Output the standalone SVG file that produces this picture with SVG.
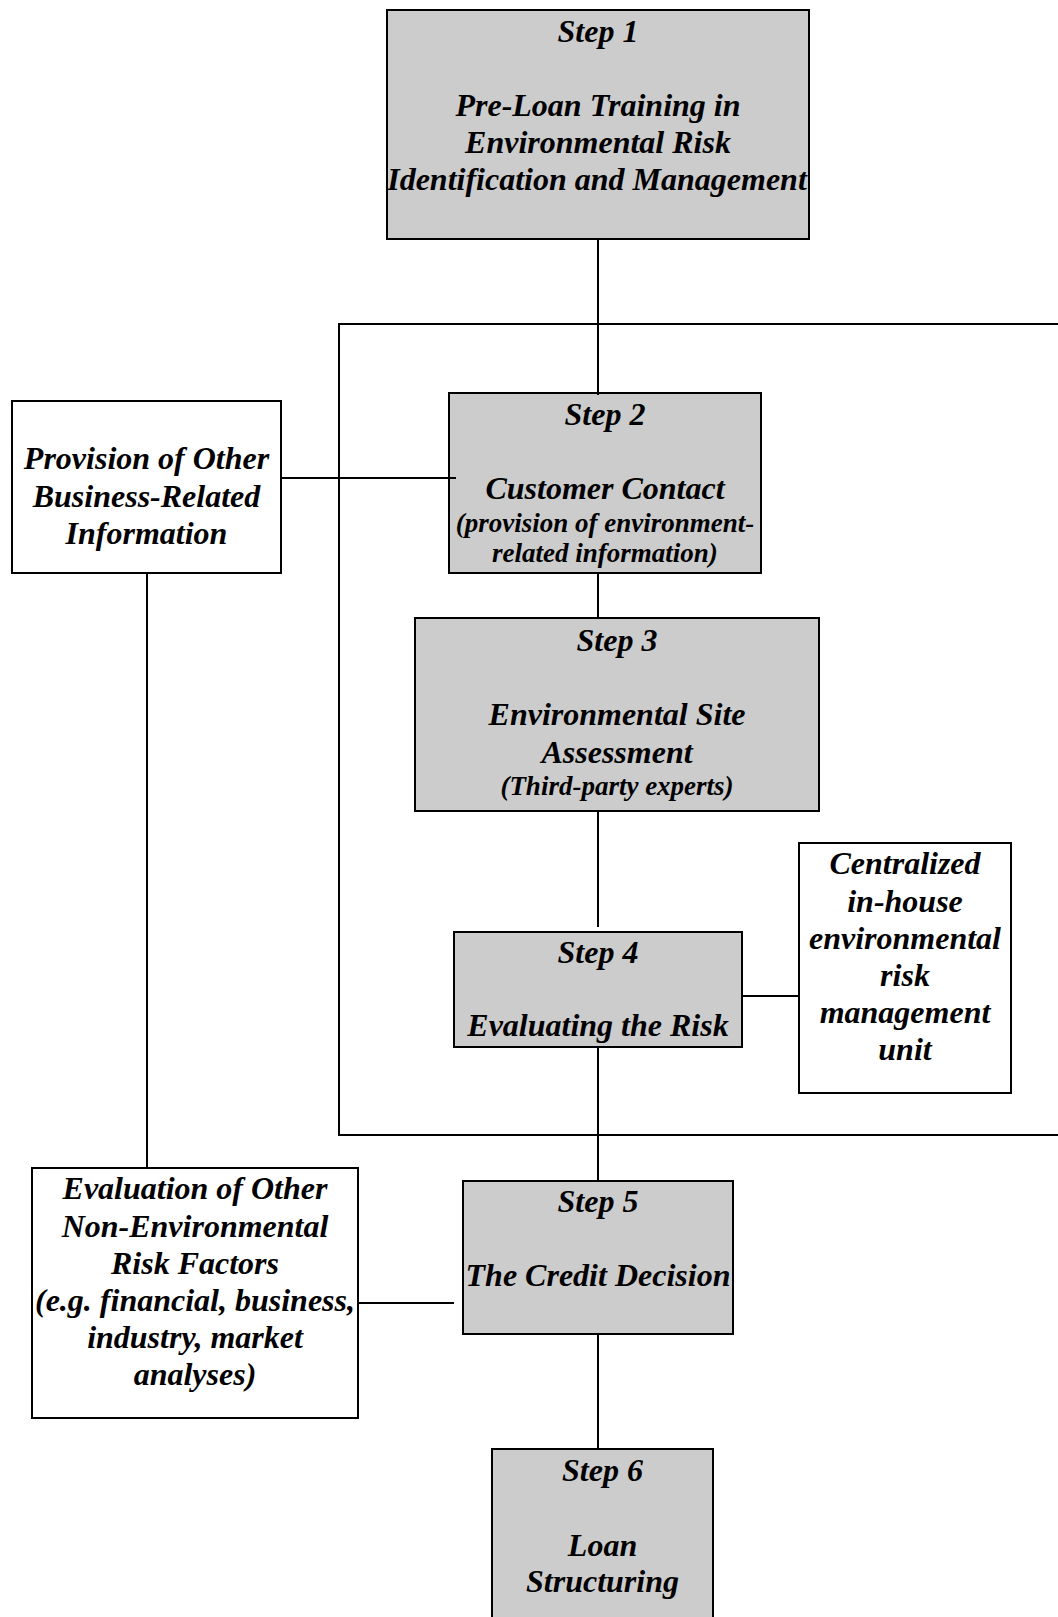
<svg xmlns="http://www.w3.org/2000/svg" width="1058" height="1617" viewBox="0 0 1058 1617">
<style>
.box{stroke:#000;stroke-width:2}
.step{fill:#cccccc}
.plain{fill:#ffffff}
.ln{stroke:#000;stroke-width:2;fill:none}
text{font-family:"Liberation Serif","Times New Roman",serif;font-weight:bold;font-style:italic;font-size:32px;text-anchor:middle;fill:#000}
.sm{font-size:27px}
</style>
<rect width="1058" height="1617" fill="#ffffff"/>
<g id="container">
<path class="ln" d="M1060,324 H339 V1135 H1060"/>
</g>
<g id="step1">
<rect class="box step" x="387" y="10" width="422" height="229"/>
<text x="598" y="42">Step 1</text>
<text x="598" y="116">Pre-Loan Training in</text>
<text x="598" y="153">Environmental Risk</text>
<text x="597" y="190">Identification and Management</text>
</g>
<g id="provision">
<rect class="box plain" x="12" y="401" width="269" height="172"/>
<text x="146.5" y="469">Provision of Other</text>
<text x="146.5" y="507">Business-Related</text>
<text x="146.5" y="544">Information</text>
</g>
<g id="step2">
<rect class="box step" x="449" y="393" width="312" height="180"/>
<text x="605" y="425">Step 2</text>
<text x="605" y="499">Customer Contact</text>
<text class="sm" x="605" y="532">(provision of environment-</text>
<text class="sm" x="605" y="562">related information)</text>
</g>
<g id="step3">
<rect class="box step" x="415" y="618" width="404" height="193"/>
<text x="617" y="651">Step 3</text>
<text x="617" y="725">Environmental Site</text>
<text x="617" y="763">Assessment</text>
<text class="sm" x="617" y="795">(Third-party experts)</text>
</g>
<g id="step4">
<rect class="box step" x="454" y="932" width="288" height="115"/>
<text x="598" y="963">Step 4</text>
<text x="598" y="1036">Evaluating the Risk</text>
</g>
<g id="central">
<rect class="box plain" x="799" y="843" width="212" height="250"/>
<text x="905" y="874">Centralized</text>
<text x="905" y="912">in-house</text>
<text x="905" y="949">environmental</text>
<text x="905" y="986">risk</text>
<text x="905" y="1023">management</text>
<text x="905" y="1060">unit</text>
</g>
<g id="evaluation">
<rect class="box plain" x="32" y="1168" width="326" height="250"/>
<text x="195" y="1199">Evaluation of Other</text>
<text x="195" y="1237">Non-Environmental</text>
<text x="195" y="1274">Risk Factors</text>
<text x="195" y="1311">(e.g. financial, business,</text>
<text x="195" y="1348">industry, market</text>
<text x="195" y="1385">analyses)</text>
</g>
<g id="step5">
<rect class="box step" x="463" y="1181" width="270" height="153"/>
<text x="598" y="1212">Step 5</text>
<text x="598" y="1286">The Credit Decision</text>
</g>
<g id="step6">
<rect class="box step" x="492" y="1449" width="221" height="180"/>
<text x="602.5" y="1481">Step 6</text>
<text x="602.5" y="1556">Loan</text>
<text x="602.5" y="1592">Structuring</text>
</g>
<g id="connectors">
<line class="ln" x1="598" y1="239" x2="598" y2="395"/>
<line class="ln" x1="281" y1="478" x2="456" y2="478"/>
<line class="ln" x1="598" y1="573" x2="598" y2="618"/>
<line class="ln" x1="598" y1="811" x2="598" y2="927"/>
<line class="ln" x1="742" y1="996" x2="799" y2="996"/>
<line class="ln" x1="598" y1="1047" x2="598" y2="1181"/>
<line class="ln" x1="147" y1="573" x2="147" y2="1168"/>
<line class="ln" x1="358" y1="1303" x2="454" y2="1303"/>
<line class="ln" x1="598" y1="1334" x2="598" y2="1449"/>
</g>
</svg>
